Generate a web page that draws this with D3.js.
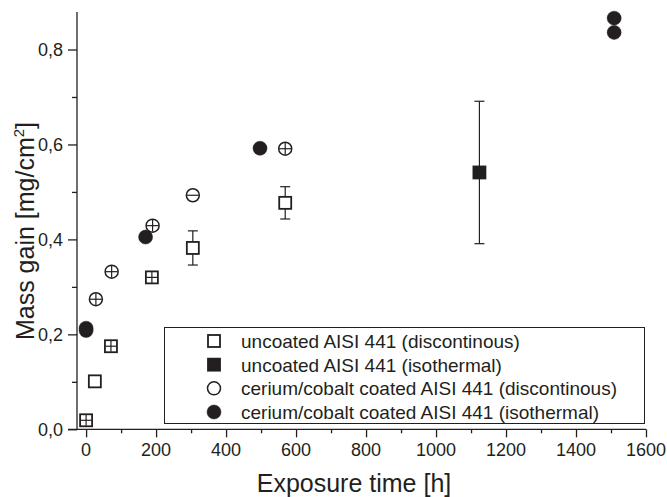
<!DOCTYPE html>
<html>
<head>
<meta charset="utf-8">
<script src="https://cdn.jsdelivr.net/npm/d3@7"></script>
<style>
  body { margin: 0; background: #fff; }
  svg text { font-family: "Liberation Sans", Arial, sans-serif; fill: #231f20; }
</style>
</head>
<body>
<svg id="chart" width="667" height="497"></svg>
<script>
// uncoated AISI 441, discontinuous
var uncDiscX = [0, 25, 71, 188, 305, 569];
var uncDiscY = [0.019, 0.101, 0.175, 0.320, 0.382, 0.477];
var uncDiscErr = [0, 0, 0, 0, 0.036, 0.034];
var uncDiscMark = ["cross", "open", "cross", "cross", "open", "open"];
// uncoated AISI 441, isothermal
var uncIsoX = [1124];
var uncIsoY = [0.541];
var uncIsoErr = [0.150];
// cerium/cobalt coated, discontinuous
var ceDiscX = [28, 73, 190, 305, 569];
var ceDiscY = [0.274, 0.332, 0.429, 0.493, 0.591];
var ceDiscMark = ["cross", "cross", "cross", "bar", "cross"];
// cerium/cobalt coated, isothermal
var ceIsoX = [0, 0, 170, 497, 1509, 1509];
var ceIsoY = [0.208, 0.213, 0.405, 0.592, 0.866, 0.836];

var legendLabels = [
  "uncoated AISI 441 (discontinous)",
  "uncoated AISI 441 (isothermal)",
  "cerium/cobalt coated AISI 441 (discontinous)",
  "cerium/cobalt coated AISI 441 (isothermal)"
];
var xTicks = [0, 200, 400, 600, 800, 1000, 1200, 1400, 1600];
var yTicks = [0, 0.2, 0.4, 0.6, 0.8];

var ink = "#231f20";
var svg = d3.select("#chart");

var x = d3.scaleLinear().domain([-26, 1600]).range([77, 646]);
var y = d3.scaleLinear().domain([0, 0.879]).range([429.3, 12]);

var comma = function(v) { return d3.format(".1f")(v).replace(".", ","); };

// x axis
var xAxis = svg.append("g")
  .attr("transform", "translate(0," + y(0) + ")")
  .call(d3.axisBottom(x).tickValues(d3.range(0, 1601, 100)).tickSize(4).tickFormat(""));
xAxis.select(".domain").remove();
xAxis.selectAll("line").attr("stroke", ink).attr("stroke-width", 1.3)
  .attr("y2", function(d) { return d % 200 == 0 ? 8 : 4; });
svg.append("line")
  .attr("x1", 68).attr("x2", x(1600)).attr("y1", y(0)).attr("y2", y(0))
  .attr("stroke", ink).attr("stroke-width", 1.3);
svg.selectAll(".xlab").data(xTicks).enter().append("text")
  .attr("class", "xlab")
  .attr("x", function(d) { return x(d); })
  .attr("y", 456)
  .attr("text-anchor", "middle")
  .attr("font-size", 18)
  .text(function(d) { return d; });

// y axis
var yAxis = svg.append("g")
  .attr("transform", "translate(" + x(-26) + ",0)")
  .call(d3.axisLeft(y).tickValues(d3.range(0, 0.85, 0.1)).tickSize(5).tickFormat(""));
yAxis.select(".domain").remove();
yAxis.selectAll("line").attr("stroke", ink).attr("stroke-width", 1.3)
  .attr("x2", function(d, i) { return i % 2 == 0 ? -9 : -5; });
svg.append("line")
  .attr("x1", x(-26)).attr("x2", x(-26)).attr("y1", y(0.879)).attr("y2", y(0))
  .attr("stroke", ink).attr("stroke-width", 1.3);
svg.selectAll(".ylab").data(yTicks).enter().append("text")
  .attr("class", "ylab")
  .attr("x", 63)
  .attr("y", function(d) { return y(d) + 6.5; })
  .attr("text-anchor", "end")
  .attr("font-size", 18)
  .text(function(d) { return comma(d); });

// axis titles
svg.append("text")
  .attr("x", 354).attr("y", 492)
  .attr("text-anchor", "middle")
  .attr("font-size", 25)
  .text("Exposure time [h]");
var yt = svg.append("text")
  .attr("transform", "translate(34," + 231 + ") rotate(-90)")
  .attr("text-anchor", "middle")
  .attr("font-size", 25);
yt.append("tspan").text("Mass gain [mg/cm");
yt.append("tspan").attr("font-size", 15).attr("dy", -10).text("2");
yt.append("tspan").attr("dy", 10).text("]");

// error bars
function errorBars(xs, ys, es) {
  var g = svg.append("g").attr("stroke", ink).attr("stroke-width", 1.2);
  xs.forEach(function(xv, i) {
    if (!es[i]) return;
    var cx = x(xv), lo = y(ys[i] - es[i]), hi = y(ys[i] + es[i]);
    g.append("line").attr("x1", cx).attr("x2", cx).attr("y1", lo).attr("y2", hi);
    g.append("line").attr("x1", cx - 5).attr("x2", cx + 5).attr("y1", lo).attr("y2", lo);
    g.append("line").attr("x1", cx - 5).attr("x2", cx + 5).attr("y1", hi).attr("y2", hi);
  });
}

// inner cross / bar of crossed symbols
function marks(xs, ys, kinds, h) {
  var g = svg.append("g").attr("stroke", ink).attr("stroke-width", 1.2);
  xs.forEach(function(xv, i) {
    var cx = x(xv), cy = y(ys[i]);
    if (kinds[i] == "cross" || kinds[i] == "bar")
      g.append("line").attr("x1", cx - h).attr("x2", cx + h).attr("y1", cy).attr("y2", cy);
    if (kinds[i] == "cross")
      g.append("line").attr("x1", cx).attr("x2", cx).attr("y1", cy - h).attr("y2", cy + h);
  });
}

function squares(xs, ys, filled) {
  svg.append("g").selectAll("rect").data(xs).enter().append("rect")
    .attr("x", function(d) { return x(d) - 6; })
    .attr("y", function(d, i) { return y(ys[i]) - 6; })
    .attr("width", 12).attr("height", 12)
    .attr("fill", filled ? ink : "#fff")
    .attr("stroke", ink).attr("stroke-width", 1.8);
}
function circles(xs, ys, filled) {
  svg.append("g").selectAll("circle").data(xs).enter().append("circle")
    .attr("cx", function(d) { return x(d); })
    .attr("cy", function(d, i) { return y(ys[i]); })
    .attr("r", filled ? 7 : 6.5)
    .attr("fill", filled ? ink : "#fff")
    .attr("stroke", ink).attr("stroke-width", filled ? 0.5 : 1.5);
}

errorBars(uncDiscX, uncDiscY, uncDiscErr);
squares(uncDiscX, uncDiscY, false);
marks(uncDiscX, uncDiscY, uncDiscMark, 5.5);
errorBars(uncIsoX, uncIsoY, uncIsoErr);
squares(uncIsoX, uncIsoY, true);
circles(ceDiscX, ceDiscY, false);
marks(ceDiscX, ceDiscY, ceDiscMark, 6);
circles(ceIsoX, ceIsoY, true);

// legend
var lg = svg.append("g");
lg.append("rect")
  .attr("x", 164.5).attr("y", 327.5).attr("width", 480).attr("height", 96)
  .attr("fill", "#fff").attr("stroke", ink).attr("stroke-width", 1);
var rowY = d3.scalePoint().domain(d3.range(4)).range([341, 412]);
legendLabels.forEach(function(lbl, i) {
  var cy = rowY(i);
  if (i < 2) {
    lg.append("rect").attr("x", 208).attr("y", cy - 6).attr("width", 12).attr("height", 12)
      .attr("fill", i == 1 ? ink : "none").attr("stroke", ink).attr("stroke-width", 1.8);
  } else {
    lg.append("circle").attr("cx", 214).attr("cy", cy).attr("r", i == 3 ? 7 : 6.5)
      .attr("fill", i == 3 ? ink : "none").attr("stroke", ink).attr("stroke-width", i == 3 ? 0.5 : 1.5);
  }
  lg.append("text").attr("x", 241).attr("y", cy + 7)
    .attr("font-size", 19).text(lbl);
});
</script>
</body>
</html>
